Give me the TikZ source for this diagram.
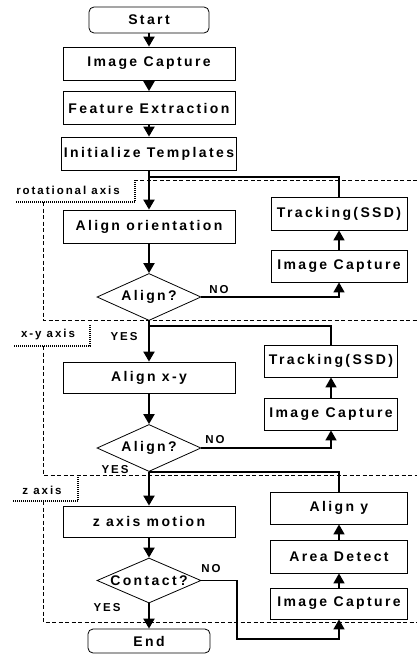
\documentclass[tikz,border=0pt]{standalone}
\usepackage{fontspec}
\newfontfamily\lsfont{Liberation Sans}[LetterSpace=17]
\usetikzlibrary{shapes.geometric,arrows.meta}
\begin{document}
\begin{tikzpicture}[x=1pt,y=-1pt,
  box/.style={draw, line width=0.8pt, minimum height=33, inner sep=0pt, font=\lsfont\bfseries\fontsize{14}{16}\selectfont},
  term/.style={box, rounded corners=5pt},
  dec/.style={draw, diamond, line width=0.8pt, inner sep=0pt, minimum width=104, minimum height=47, label={[font=\lsfont\bfseries\fontsize{14}{16}\selectfont]center:#1}},
  lab/.style={inner sep=0pt, font=\lsfont\bfseries\fontsize{11.5}{14}\selectfont},
  arr/.style={line width=2pt, -{Triangle[length=10pt,width=11pt]}},
  arrs/.style={line width=1.5pt, -{Triangle[length=10pt,width=11pt]}},
  loopl/.style={line width=1.5pt},
  region/.style={line width=0.8pt, dash pattern=on 4pt off 2.5pt},
  tagline/.style={line width=1.1pt, dash pattern=on 1pt off 1pt}
]
\useasboundingbox (0,0) rectangle (417,655);

% main column
\node[term, minimum width=120, minimum height=26] (start) at (149,20) {Start};
\node[box, minimum width=172] (cap0) at (149,63.5) {Image Capture};
\node[box, minimum width=172] (feat) at (149,108) {Feature Extraction};
\node[box, minimum width=175] (init) at (149,153.5) {Initialize Templates};
\node[box, minimum width=172] (alo) at (149,226.5) {Align orientation};
\node[dec=Align?] (d1) at (149,297) {};
\node[box, minimum width=172, minimum height=31] (axy) at (149,377.5) {Align x-y};
\node[dec=Align?] (d2) at (149,448) {};
\node[box, minimum width=172, minimum height=31] (zm) at (149,521.5) {z axis motion};
\node[dec=Contact?, minimum height=45] (d3) at (149,580.5) {};
\node[term, minimum width=122, minimum height=24] (end) at (149,641) {End};

% right column
\node[box, minimum width=136] (t1) at (339,213.5) {Tracking(SSD)};
\node[box, minimum width=136, minimum height=32] (c1) at (339,266) {Image Capture};
\node[box, minimum width=133, minimum height=32] (t2) at (331,361) {Tracking(SSD)};
\node[box, minimum width=133, minimum height=32] (c2) at (331,414) {Image Capture};
\node[box, minimum width=137, minimum height=32] (ay) at (339,508) {Align y};
\node[box, minimum width=137, minimum height=33] (ar) at (339,556.5) {Area Detect};
\node[box, minimum width=137, minimum height=31] (c3) at (339,603.5) {Image Capture};

% junctions
\coordinate (j1) at (149,177);
\coordinate (j2) at (149,326);
\coordinate (j3) at (149,472);
\coordinate (k1) at (237,639);

% main arrows
\draw[arr] (start.south) -- (cap0.north);
\draw[arr] (cap0.south) -- (feat.north);
\draw[arr] (feat.south) -- (init.north);
\draw[arr] (init.south) -- (alo.north);
\draw[arr] (alo.south) -- (d1.north);
\draw[arr] (d1.south) -- (axy.north);
\draw[arr] (axy.south) -- (d2.north);
\draw[arr] (d2.south) -- (zm.north);
\draw[arr] (zm.south) -- (d3.north);
\draw[arr] (d3.south) -- (end.north);

% loops
\draw[loopl] (j1) -| (t1.north);
\draw[arrs] (c1.north) -- (t1.south);
\draw[arrs] (d1.east) -| (c1.south);

\draw[loopl] (j2) -| (t2.north);
\draw[arrs] (c2.north) -- (t2.south);
\draw[arrs] (d2.east) -| (c2.south);

\draw[loopl] (j3) -| (ay.north);
\draw[arrs] (ar.north) -- (ay.south);
\draw[arrs] (c3.north) -- (ar.south);
\draw[arrs] (d3.east) -| (k1) -| (c3.south);

% branch labels
\node[lab] (no1) at (219,290) {NO};
\node[lab] (yes1) at (124,337) {YES};
\node[lab] (no2) at (215,440) {NO};
\node[lab] (yes2) at (115,470) {YES};
\node[lab] (no3) at (211,569) {NO};
\node[lab] (yes3) at (107,608) {YES};

% regions
\draw[region] (417,180) -- (135,180);
\draw[tagline] (135,180) -- (135,202) -- (15,202);
\draw[region] (43,202) -- (43,320) -- (417,320);
\node[lab] (lrot) at (68,190) {rotational axis};

\draw[tagline] (90,325) -- (90,346) -- (13,346);
\draw[region] (43,346) -- (43,475) -- (417,475);
\node[lab] (lxy) at (48,335) {x-y axis};

\draw[tagline] (78,477) -- (78,501) -- (13,501);
\draw[region] (43,501) -- (43,622) -- (417,622);
\node[lab] (lz) at (42,490) {z axis};
\end{tikzpicture}
\end{document}
